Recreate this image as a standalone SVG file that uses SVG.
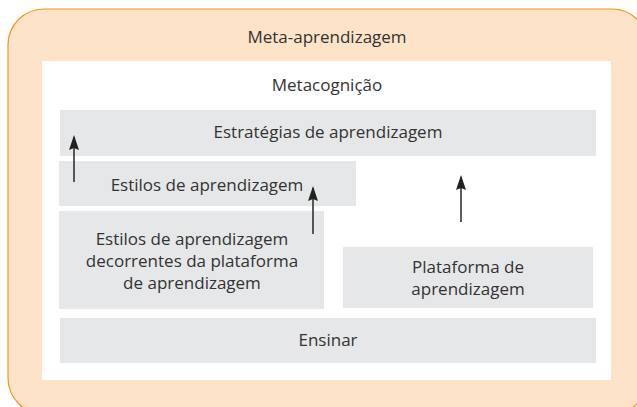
<svg xmlns="http://www.w3.org/2000/svg" width="637" height="407" viewBox="0 0 637 407">
<defs>
<style>
.box{fill:#e6e7e8;}
.t{font-family:"Open Sans","Noto Sans",sans-serif;font-size:17px;fill:#333;text-anchor:middle;}
.arr{stroke:#333;stroke-width:1.6;fill:none;marker-end:url(#ah);}
</style>
<marker id="ah" markerWidth="15" markerHeight="10" refX="13" refY="5" orient="auto" markerUnits="userSpaceOnUse" viewBox="0 0 15 10">
<path d="M0 0 L15 5 L0 10 L2 5 Z" fill="#222"/>
</marker>
</defs>
<rect width="637" height="407" fill="#fff"/>
<g id="meta-aprendizagem">
<rect x="8" y="9" width="640" height="405" rx="36" fill="#fde4c8" stroke="#f7941d" stroke-width="1.2"/>
<text class="t" x="327" y="43">Meta-aprendizagem</text>
</g>
<g id="metacognicao">
<rect x="42" y="61" width="569" height="319" fill="#fff"/>
<text class="t" x="327" y="91">Metacognição</text>
</g>
<g id="estrategias">
<rect class="box" x="60" y="110" width="536" height="46"/>
<text class="t" x="328" y="138">Estratégias de aprendizagem</text>
</g>
<g id="estilos">
<rect class="box" x="59" y="161" width="297" height="45"/>
<text class="t" x="207" y="191">Estilos de aprendizagem</text>
</g>
<g id="estilos-plataforma">
<rect class="box" x="59" y="211" width="265" height="98"/>
<text class="t" x="192" y="245">Estilos de aprendizagem</text>
<text class="t" x="192" y="267">decorrentes da plataforma</text>
<text class="t" x="192" y="289">de aprendizagem</text>
</g>
<g id="plataforma">
<rect class="box" x="343" y="247" width="250" height="61"/>
<text class="t" x="468" y="273">Plataforma de</text>
<text class="t" x="468" y="295">aprendizagem</text>
</g>
<g id="ensinar">
<rect class="box" x="60" y="318" width="536" height="45"/>
<text class="t" x="328" y="346">Ensinar</text>
</g>
<g id="connectors">
<line class="arr" x1="74" y1="182" x2="74" y2="137"/>
<line class="arr" x1="313" y1="234" x2="313" y2="188"/>
<line class="arr" x1="461" y1="222" x2="461" y2="177"/>
</g>
</svg>
